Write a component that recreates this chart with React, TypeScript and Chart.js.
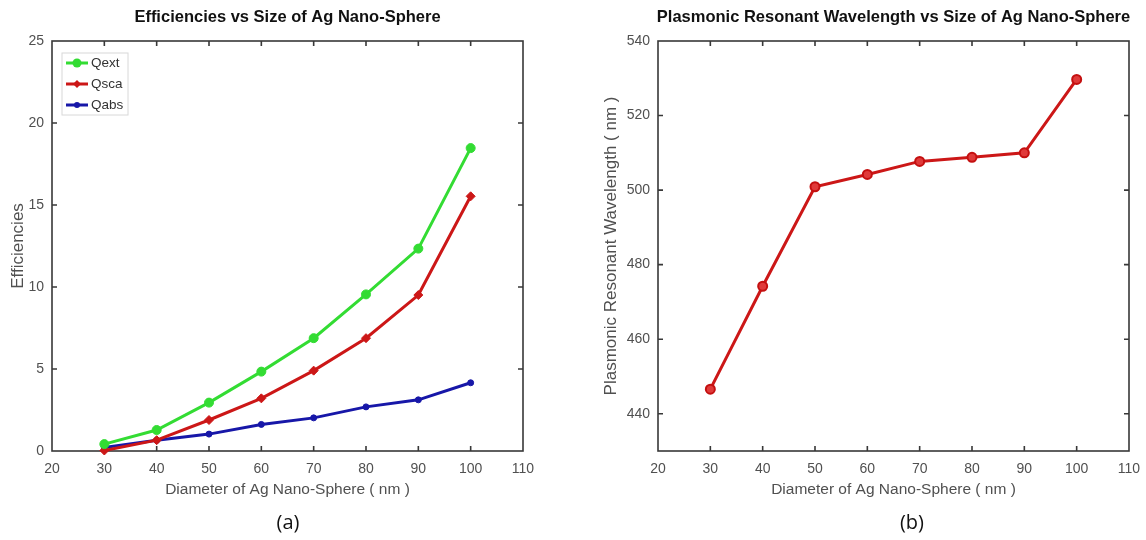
import { useEffect, useRef } from "react";
import { Chart, registerables } from "chart.js";

Chart.register(...registerables);

// Sphere diameters (nm) shared by both panels
const diameters = [30, 40, 50, 60, 70, 80, 90, 100];

// Panel (a): extinction, scattering and absorption efficiencies
const qext = [0.42, 1.28, 2.95, 4.84, 6.88, 9.55, 12.34, 18.47];
const qsca = [0.03, 0.66, 1.89, 3.21, 4.9, 6.88, 9.51, 15.53];
const qabs = [0.22, 0.65, 1.03, 1.62, 2.02, 2.69, 3.12, 4.16];

// Panel (b): plasmonic resonant wavelength (nm)
const resonance = [446.6, 474.2, 500.9, 504.2, 507.7, 508.8, 510.0, 529.7];

// Tick values shown on each axis
const diameterTicks = [20, 30, 40, 50, 60, 70, 80, 90, 100, 110];
const efficiencyTicks = [0, 5, 10, 15, 20, 25];
const wavelengthTicks = [440, 460, 480, 500, 520, 540];

const FONT = "'Liberation Sans', Arial, Helvetica, sans-serif";
const GREEN = "#33dc33";
const RED = "#cc1717";
const BLUE = "#1717a8";

const toPoints = (ys: number[]) => diameters.map((x, i) => ({ x, y: ys[i] }));

// Box around the plot area with inward tick marks on all four sides
const framePlugin = {
  id: "frame",
  beforeDatasetsDraw(chart: any) {
    const { ctx, chartArea: a, scales } = chart;
    ctx.save();
    ctx.strokeStyle = "#383838";
    ctx.lineWidth = 1.6;
    ctx.strokeRect(a.left, a.top, a.right - a.left, a.bottom - a.top);
    const len = 5;
    ctx.beginPath();
    scales.x.ticks.forEach((tk: any) => {
      const px = scales.x.getPixelForValue(tk.value);
      if (px <= a.left + 1 || px >= a.right - 1) return;
      ctx.moveTo(px, a.bottom);
      ctx.lineTo(px, a.bottom - len);
      ctx.moveTo(px, a.top);
      ctx.lineTo(px, a.top + len);
    });
    scales.y.ticks.forEach((tk: any) => {
      const py = scales.y.getPixelForValue(tk.value);
      if (py <= a.top + 1 || py >= a.bottom - 1) return;
      ctx.moveTo(a.left, py);
      ctx.lineTo(a.left + len, py);
      ctx.moveTo(a.right, py);
      ctx.lineTo(a.right - len, py);
    });
    ctx.stroke();
    ctx.restore();
  },
};

// Bold heading centred over the plot area
const makeHeading = (text: string) => ({
  id: "heading",
  afterDraw(chart: any) {
    const { ctx, chartArea: a } = chart;
    ctx.save();
    ctx.font = `bold 16.5px ${FONT}`;
    ctx.fillStyle = "#111";
    ctx.textAlign = "center";
    ctx.textBaseline = "middle";
    ctx.fillText(text, (a.left + a.right) / 2, 17);
    ctx.restore();
  },
});

// Legend box in the upper-left corner of panel (a)
const legendBoxPlugin = {
  id: "legendBox",
  afterDatasetsDraw(chart: any) {
    const { ctx } = chart;
    const x0 = 62;
    const y0 = 53;
    ctx.save();
    ctx.fillStyle = "#fff";
    ctx.strokeStyle = "#d8d8d8";
    ctx.lineWidth = 1;
    ctx.fillRect(x0, y0, 66, 62);
    ctx.strokeRect(x0, y0, 66, 62);
    chart.data.datasets.forEach((ds: any, i: number) => {
      const y = 63 + i * 21;
      ctx.strokeStyle = ds.borderColor;
      ctx.lineWidth = 3;
      ctx.beginPath();
      ctx.moveTo(x0 + 4, y);
      ctx.lineTo(x0 + 26, y);
      ctx.stroke();
      ctx.fillStyle = ds.pointBackgroundColor;
      ctx.beginPath();
      if (ds.pointStyle === "rectRot") {
        const r = 4;
        const cx = x0 + 15;
        ctx.moveTo(cx, y - r);
        ctx.lineTo(cx + r, y);
        ctx.lineTo(cx, y + r);
        ctx.lineTo(cx - r, y);
        ctx.closePath();
      } else {
        ctx.arc(x0 + 15, y, ds.pointRadius, 0, Math.PI * 2);
      }
      ctx.fill();
      ctx.fillStyle = "#333";
      ctx.font = `13.5px ${FONT}`;
      ctx.textAlign = "left";
      ctx.textBaseline = "middle";
      ctx.fillText(ds.label, x0 + 29, y + 0.5);
    });
    ctx.restore();
  },
};

const tickFont = { family: FONT, size: 14 };
const axisColor = "#505050";

const fixedTicks = (values: number[]) => (s: any) => {
  s.ticks = values.map((value) => ({ value }));
};

function xScale() {
  return {
    type: "linear",
    min: 20,
    max: 110,
    afterBuildTicks: fixedTicks(diameterTicks),
    ticks: { padding: 10, color: axisColor, font: tickFont },
    grid: { display: false, drawTicks: false },
    border: { display: false },
    title: {
      display: true,
      text: "Diameter of Ag Nano-Sphere ( nm )",
      color: axisColor,
      font: { family: FONT, size: 15.5 },
      padding: { top: 0, bottom: 41 },
    },
    afterFit: (s: any) => {
      s.height = 89;
      s.paddingLeft = 0;
      s.paddingRight = 0;
    },
  };
}

function yScale(min: number, max: number, values: number[], title: string, width: number, titlePad: number) {
  return {
    type: "linear",
    min,
    max,
    afterBuildTicks: fixedTicks(values),
    ticks: { padding: 8, color: axisColor, font: tickFont },
    grid: { display: false, drawTicks: false },
    border: { display: false },
    title: {
      display: true,
      text: title,
      color: axisColor,
      font: { family: FONT, size: 17 },
      padding: { top: titlePad, bottom: 0 },
    },
    afterFit: (s: any) => {
      s.width = width;
      s.paddingTop = 0;
      s.paddingBottom = 0;
    },
  };
}

function series(label: string, ys: number[], color: string, style: string, radius: number) {
  return {
    label,
    data: toPoints(ys),
    showLine: true,
    borderColor: color,
    backgroundColor: color,
    borderWidth: 3,
    pointStyle: style,
    pointRadius: radius,
    pointBackgroundColor: color,
    pointBorderColor: color,
    pointBorderWidth: 1,
    clip: false,
  };
}

function EfficiencyChart() {
  const ref = useRef<HTMLCanvasElement>(null);
  useEffect(() => {
    const chart = new Chart(ref.current as HTMLCanvasElement, {
      type: "scatter",
      data: {
        datasets: [
          series("Qext", qext, GREEN, "circle", 4.5),
          series("Qsca", qsca, RED, "rectRot", 4.5),
          series("Qabs", qabs, BLUE, "circle", 3),
        ],
      },
      options: {
        responsive: false,
        animation: false,
        layout: { padding: { left: 0, top: 41, right: 50, bottom: 0 } },
        plugins: { legend: { display: false }, tooltip: { enabled: false } },
        scales: {
          x: xScale(),
          y: yScale(0, 25, efficiencyTicks, "Efficiencies", 52, 8),
        },
      } as any,
      plugins: [framePlugin, makeHeading("Efficiencies vs Size of Ag Nano-Sphere"), legendBoxPlugin],
    });
    return () => chart.destroy();
  }, []);
  return <canvas ref={ref} width={573} height={540} style={{ position: "absolute", left: 0, top: 0 }} />;
}

function ResonanceChart() {
  const ref = useRef<HTMLCanvasElement>(null);
  useEffect(() => {
    const ds: any = series("λ", resonance, RED, "circle", 4.5);
    ds.pointBackgroundColor = "#e03a3a";
    ds.pointBorderColor = "#c41010";
    ds.pointBorderWidth = 2;
    const chart = new Chart(ref.current as HTMLCanvasElement, {
      type: "scatter",
      data: { datasets: [ds] },
      options: {
        responsive: false,
        animation: false,
        layout: { padding: { left: 0, top: 41, right: 17, bottom: 0 } },
        plugins: { legend: { display: false }, tooltip: { enabled: false } },
        scales: {
          x: xScale(),
          y: yScale(430, 540, wavelengthTicks, "Plasmonic Resonant Wavelength ( nm )", 85, 28),
        },
      } as any,
      plugins: [framePlugin, makeHeading("Plasmonic Resonant Wavelength vs Size of Ag Nano-Sphere")],
    });
    return () => chart.destroy();
  }, []);
  return <canvas ref={ref} width={573} height={540} style={{ position: "absolute", left: 573, top: 0 }} />;
}

const captionStyle: any = {
  position: "absolute",
  top: 509,
  width: 60,
  textAlign: "center",
  fontFamily: "'Open Sans', 'Liberation Sans', sans-serif",
  fontSize: 20,
  lineHeight: "26px",
  color: "#111",
};

export default function App() {
  return (
    <div
      style={{
        position: "fixed",
        left: 0,
        top: 0,
        width: 1146,
        height: 540,
        background: "#fff",
        overflow: "hidden",
      }}
    >
      <EfficiencyChart />
      <ResonanceChart />
      <div style={{ ...captionStyle, left: 288 - 30 }}>(a)</div>
      <div style={{ ...captionStyle, left: 912 - 30 }}>(b)</div>
    </div>
  );
}
